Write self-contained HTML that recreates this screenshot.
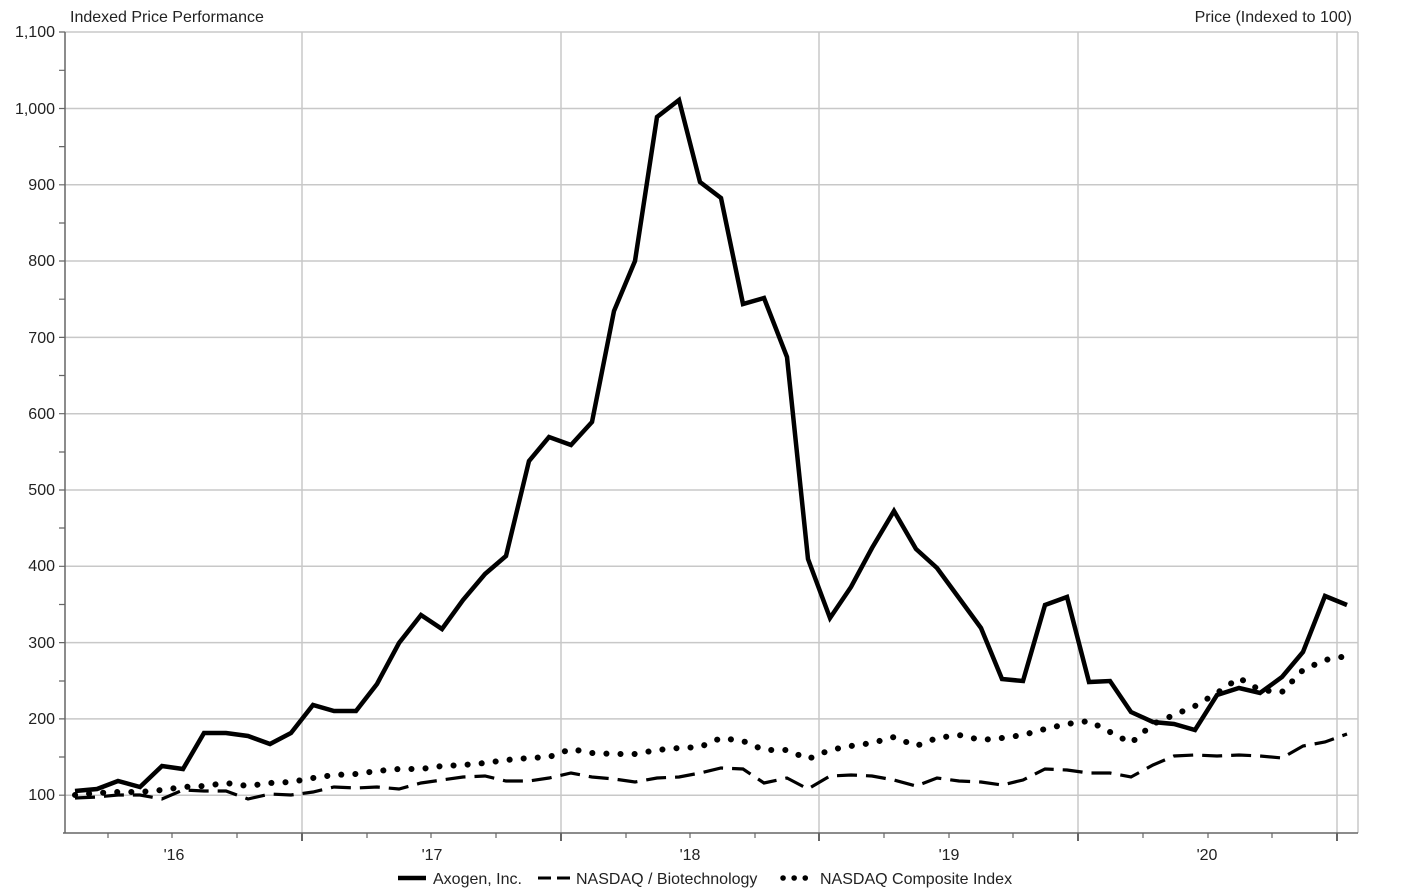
<!DOCTYPE html>
<html><head><style>body{margin:0;background:#fff}svg text{font-family:"Liberation Sans",Arial,sans-serif;font-size:16px;fill:#222}</style></head><body>
<svg width="1421" height="889" xmlns="http://www.w3.org/2000/svg">
<rect width="1421" height="889" fill="#fff"/>
<g stroke="#c8c8c8" stroke-width="1.5">
<line x1="65" y1="32" x2="1358" y2="32"/><line x1="65" y1="108.5" x2="1358" y2="108.5"/><line x1="65" y1="184.8" x2="1358" y2="184.8"/><line x1="65" y1="261" x2="1358" y2="261"/><line x1="65" y1="337.4" x2="1358" y2="337.4"/><line x1="65" y1="413.7" x2="1358" y2="413.7"/><line x1="65" y1="490" x2="1358" y2="490"/><line x1="65" y1="566.3" x2="1358" y2="566.3"/><line x1="65" y1="642.6" x2="1358" y2="642.6"/><line x1="65" y1="718.9" x2="1358" y2="718.9"/><line x1="65" y1="795.2" x2="1358" y2="795.2"/>
<line x1="302" y1="32" x2="302" y2="833"/><line x1="561" y1="32" x2="561" y2="833"/><line x1="819" y1="32" x2="819" y2="833"/><line x1="1078" y1="32" x2="1078" y2="833"/><line x1="1337" y1="32" x2="1337" y2="833"/><line x1="1358" y1="32" x2="1358" y2="833"/>
</g>
<g stroke="#666" stroke-width="1.5">
<line x1="65" y1="32" x2="65" y2="833"/><line x1="63" y1="833" x2="1358" y2="833"/>
</g>
<g stroke="#666" stroke-width="1.2">
<path d="M59 70.3H65M59 146.6H65M59 223H65M59 299.2H65M59 375.5H65M59 452H65M59 528H65M59 604.5H65M59 681H65M59 757H65M59 32H65M59 108.5H65M59 184.8H65M59 261H65M59 337.4H65M59 413.7H65M59 490H65M59 566.3H65M59 642.6H65M59 718.9H65M59 795.2H65"/>
<path d="M108 833v5M172 833v5M237 833v5M367 833v5M431 833v5M496 833v5M626 833v5M690 833v5M755 833v5M884 833v5M949 833v5M1013 833v5M1143 833v5M1208 833v5M1272 833v5"/>
<path d="M302 833v8M561 833v8M819 833v8M1078 833v8M1337 833v8" stroke-width="2"/>
</g>
<g text-anchor="end">
<text x="55" y="37">1,100</text><text x="55" y="114">1,000</text><text x="55" y="190">900</text><text x="55" y="266">800</text><text x="55" y="343">700</text><text x="55" y="419">600</text><text x="55" y="495">500</text><text x="55" y="571">400</text><text x="55" y="648">300</text><text x="55" y="724">200</text><text x="55" y="800">100</text>
</g>
<g text-anchor="middle">
<text x="174" y="860">'16</text><text x="432" y="860">'17</text><text x="690" y="860">'18</text><text x="949" y="860">'19</text><text x="1207" y="860">'20</text>
</g>
<text x="70" y="22">Indexed Price Performance</text>
<text x="1352" y="22" text-anchor="end">Price (Indexed to 100)</text>
<g fill="none" stroke="#000" stroke-linejoin="miter">
<polyline stroke-width="4.5" points="75,791 97,789 118,781 140,787 162,766 183,769 204,733 226,733 248,736 270,744 291,733 313,705 334,711 356,711 377,684 399,643 421,615 442,629 463,600 485,574 506,556 529,461 549,437 571,445 592,422 614,311 635,261 657,117 679,100 700,182 721,198 743,304 764,298 787,357 808,559 830,618 851,587 872,548 894,511 916,549 937,568 959,598 981,628 1002,679 1023,681 1045,605 1067,597 1089,682 1110,681 1131,712 1153,722 1174,724 1195,730 1217,695 1239,688 1260,693 1282,677 1303,652 1325,596 1347,605"/>
<polyline stroke-width="3.2" stroke-dasharray="20,9" points="75,798 97,797 118,795 140,795 162,799 183,790 204,791 226,791 248,799 270,794 291,795 313,792 334,787 356,788 377,787 399,789 421,783 442,780 463,777 485,776 506,781 529,781 549,778 571,773 592,777 614,779 635,782 657,778 679,777 700,773 721,768 743,769 764,783 787,778 808,789 830,776 851,775 872,776 894,780 916,786 937,778 959,781 981,782 1002,785 1023,780 1045,769 1067,770 1089,773 1110,773 1131,777 1153,765 1174,756 1195,755 1217,756 1239,755 1260,756 1282,758 1303,746 1325,742 1347,734"/>
<polyline stroke-width="6" stroke-linecap="round" stroke-dasharray="0.1,14" points="75,795 97,793 118,792 140,792 162,790 183,787 204,786 226,783 248,786 270,783 291,782 313,778 334,775 356,774 377,771 399,769 421,769 442,766 463,765 485,763 506,760 529,758 549,757 571,749 592,753 614,754 635,754 657,750 679,748 700,747 721,738 743,741 764,750 787,750 808,759 830,750 851,746 872,743 894,737 916,746 937,738 959,735 981,740 1002,738 1023,735 1045,729 1067,724 1089,721 1110,732 1131,743 1153,724 1174,715 1195,706 1217,693 1239,678 1260,690 1282,692 1303,670 1325,660 1347,656"/>
</g>
<g stroke="#000" fill="none">
<line x1="398" y1="878" x2="426" y2="878" stroke-width="4.5"/>
<line x1="538" y1="878" x2="570" y2="878" stroke-width="3" stroke-dasharray="13,6"/>
<line x1="783" y1="878" x2="815" y2="878" stroke-width="5.5" stroke-linecap="round" stroke-dasharray="0.1,11"/>
</g>
<text x="433" y="884">Axogen, Inc.</text>
<text x="576" y="884">NASDAQ / Biotechnology</text>
<text x="820" y="884">NASDAQ Composite Index</text>
</svg>
</body></html>
